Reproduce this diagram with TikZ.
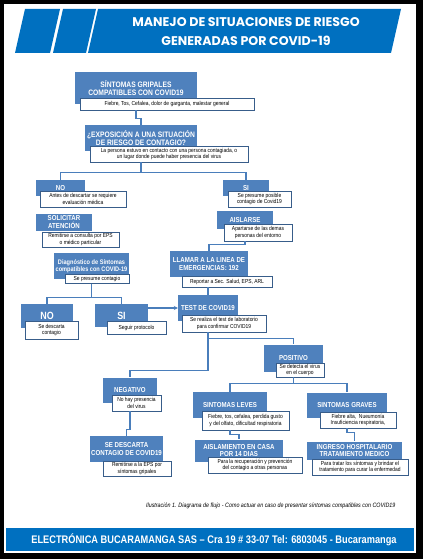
\documentclass[tikz,border=0pt]{standalone}
\usepackage{fontspec}
\setmainfont{Liberation Sans}
\newfontfamily\narrowfont{Liberation Sans}[FakeStretch=0.85]
\newfontfamily\footfont{Liberation Sans}[FakeStretch=0.84]
\newfontfamily\titlefont{Poppins}
\usetikzlibrary{arrows.meta}
\definecolor{bannerblue}{HTML}{0070C0}
\definecolor{headblue}{HTML}{4F81BD}
\definecolor{noteblue}{HTML}{385D8A}
\definecolor{lineblue}{HTML}{4A7EBB}

\begin{document}
\begin{tikzpicture}[x=1pt, y=-1pt,
	head node/.style={fill=headblue, text=white, inner sep=0pt, align=center,
		font=\narrowfont\bfseries\fontsize{7.2}{8}\selectfont},
	large node/.style={head node, font=\narrowfont\bfseries\fontsize{7.9}{8.8}\selectfont},
	big node/.style={head node, font=\narrowfont\bfseries\fontsize{10.5}{12}\selectfont},
	note node/.style={draw=noteblue, line width=0.7pt, fill=white, inner sep=0pt,
		align=center, font=\narrowfont\fontsize{5.8}{6.8}\selectfont},
	link/.style={draw=lineblue, line width=1.1pt}]
	
	% page, frame and banner
	\useasboundingbox (0,0) rectangle (423,559);
	\fill[black] (0,0) rectangle (423,559);
	\fill[white] (4,4) rectangle (416,553);
	\fill[bannerblue] (15,53) -- (25,9) -- (60,9) -- (50,53) -- cycle;
	\fill[bannerblue] (53,53) -- (63,9) -- (96,9) -- (86,53) -- cycle;
	\fill[bannerblue] (88,53) -- (98,9) -- (401,9) -- (391,53) -- cycle;
	\node[text=white, font=\titlefont\bfseries\fontsize{12.6}{14}\selectfont] (title1) at (246,22) {MANEJO DE SITUACIONES DE RIESGO};
	\node[text=white, font=\titlefont\bfseries\fontsize{12.6}{14}\selectfont] (title2) at (246,41) {GENERADAS POR COVID-19};
	
	% first steps
	\node[large node, minimum width=122pt, minimum height=32pt] (sint) at (136,88) {SÍNTOMAS GRIPALES\\COMPATIBLES CON COVID19};
	\node[note node, minimum width=174pt, minimum height=12pt] (sintN) at (167,104) {Fiebre, Tos, Cefalea, dolor de garganta, malestar general};
	\node[large node, minimum width=112pt, minimum height=26pt] (expo) at (141,138) {¿EXPOSICIÓN A UNA SITUACIÓN\\DE RIESGO DE CONTAGIO?};
	\node[note node, minimum width=158pt, minimum height=16pt] (expoN) at (169,154) {La persona estuvo en contacto con una persona contagiada, o\\un lugar donde puede haber presencia del virus};
	
	% left branch
	\node[head node, minimum width=49pt, minimum height=16pt] (no) at (60.5,188) {NO};
	\node[note node, minimum width=86pt, minimum height=16pt] (noN) at (83,199) {Antes de descartar se requiere\\evaluación médica};
	\node[head node, minimum width=56pt, minimum height=17pt] (sol) at (64,222.5) {SOLICITAR\\ATENCIÓN};
	\node[note node, minimum width=77pt, minimum height=15pt] (solN) at (80.5,239.5) {Remitirse a consulta por EPS\\o médico particular};
	\node[head node, minimum width=75pt, minimum height=26pt, font=\narrowfont\bfseries\fontsize{6.6}{7.4}\selectfont] (diag) at (91.5,266) {Diagnóstico de Síntomas\\compatibles con COVID-19};
	\node[note node, minimum width=64pt, minimum height=8.5pt] (diagN) at (97,279) {Se presume contagio};
	\node[big node, minimum width=52pt, minimum height=24pt] (no2) at (47,316) {NO};
	\node[note node, minimum width=53pt, minimum height=18pt] (no2N) at (51.5,330) {Se descarta\\contagio};
	\node[big node, minimum width=53pt, minimum height=23pt] (si2) at (121.5,315.5) {SI};
	\node[note node, minimum width=59pt, minimum height=13pt] (si2N) at (136.5,327.5) {Seguir protocolo};
	
	% right branch
	\node[head node, minimum width=46pt, minimum height=16pt] (si) at (246,188) {SI};
	\node[note node, minimum width=63pt, minimum height=16pt] (siN) at (259.5,199) {Se presume posible\\contagio de Covid19};
	\node[head node, minimum width=56pt, minimum height=18pt] (ais) at (245,220) {AISLARSE};
	\node[note node, minimum width=68pt, minimum height=17pt] (aisN) at (258,232.5) {Apartarse de las demas\\personas del entorno};
	\node[head node, minimum width=78pt, minimum height=26pt] (lla) at (209,264) {LLAMAR A LA LINEA DE\\EMERGENCIAS: 192};
	\node[note node, minimum width=90pt, minimum height=11pt] (llaN) at (227,281.5) {Reportar a Sec. Salud, EPS, ARL};
	\node[head node, minimum width=60pt, minimum height=26pt] (test) at (208,308) {TEST DE COVID19};
	\node[note node, minimum width=84pt, minimum height=17pt] (testN) at (224,323.5) {Se realiza el test de laboratorio\\para confirmar COVID19};
	
	% results
	\node[head node, minimum width=59pt, minimum height=27pt] (pos) at (293.5,358) {POSITIVO};
	\node[note node, minimum width=48pt, minimum height=14pt] (posN) at (300,370) {Se detecta el virus\\en el cuerpo};
	\node[head node, minimum width=54pt, minimum height=25pt] (neg) at (130,390) {NEGATIVO};
	\node[note node, minimum width=49pt, minimum height=16pt] (negN) at (136.5,403) {No hay presencia\\del virus};
	\node[head node, minimum width=73pt, minimum height=26pt] (des) at (126.5,449) {SE DESCARTA\\CONTAGIO DE COVID19};
	\node[note node, minimum width=68pt, minimum height=15pt] (desN) at (137,468.5) {Remitirse a la EPS por\\síntomas gripales};
	\node[head node, minimum width=74pt, minimum height=26pt] (lev) at (230,405) {SINTOMAS LEVES};
	\node[note node, minimum width=87pt, minimum height=19pt] (levN) at (245.5,420.5) {Fiebre, tos, cefalea, perdida gusto\\y del olfato, dificultad respiratoria};
	\node[head node, minimum width=88pt, minimum height=22pt, font=\narrowfont\bfseries\fontsize{7.2}{7.2}\selectfont] (aisC) at (239,450.5) {AISLAMIENTO EN CASA\\POR 14 DIAS};
	\node[note node, minimum width=94pt, minimum height=16pt] (aisCN) at (255,465) {Para la recuperación y prevención\\del contagio a otras personas};
	\node[head node, minimum width=80pt, minimum height=25pt] (grav) at (347,405) {SINTOMAS GRAVES};
	\node[note node, minimum width=76pt, minimum height=16pt] (gravN) at (358,420) {Fiebre alta, \ Nueumonía\\Insuficiencia respiratoria,};
	\node[head node, minimum width=95pt, minimum height=18pt, font=\narrowfont\bfseries\fontsize{7.2}{7.6}\selectfont] (ing) at (354.5,450.5) {INGRESO HOSPITALARIO\\TRATAMIENTO MEDICO};
	\node[note node, minimum width=96pt, minimum height=16pt] (ingN) at (360,467) {Para tratar los síntomas y brindar el\\tratamiento para curar la enfermedad};
	
	% connectors
	\draw[link] (sint |- sintN.south) -- ++(0,8) -| (expo.north);
	\draw[link] (expo |- expoN.south) -- ++(0,10) coordinate (j1);
	\draw[link] (j1) -| (no.north);
	\draw[link] (j1) -| (si.north);
	\draw[link] (ais |- aisN.south) -- ++(0,3) -| (lla.north);
	\draw[link] (test |- llaN.south) -- (test.north);
	\draw[link] (diag |- diagN.south) -- ++(0,14) coordinate (j2);
	\draw[link] (j2) -| (no2.north);
	\draw[link] (j2) -| (si2.north);
	\draw[link, line width=1.6pt, -{Stealth[length=4pt,width=4pt]}] (si2.east |- test.west) -- (test.west);
	\draw[link] (test |- testN.south) -- ++(0,6) coordinate (j3);
	\draw[link] (j3) -| (pos.north);
	\draw[link] (j3) -- ++(0,32) -| (neg.north);
	\draw[link] (pos |- posN.south) -- ++(0,6) coordinate (j4);
	\draw[link] (j4) -| (lev.north);
	\draw[link] (j4) -| (grav.north);
	\draw[link] (neg |- negN.south) -- ++(0,18) -| (des.north);
	\draw[link] (lev |- levN.south) -- ++(0,4) -| (aisC.north);
	\draw[link] (grav |- gravN.south) -- ++(0,4) -| (ing.north);
	
	% caption and footer
	\node[anchor=east, font=\narrowfont\itshape\fontsize{6.3}{7}\selectfont] (cap) at (399,506) {Ilustración 1. Diagrama de flujo - Como actuar en caso de presentar síntomas compatibles con COVID19};
	\fill[bannerblue] (6,528) rectangle (414,551);
	\node[text=white, font=\footfont\bfseries\fontsize{11}{12}\selectfont] (foot) at (214,540) {ELECTRÓNICA BUCARAMANGA SAS – Cra 19 \# 33-07 Tel: 6803045 - Bucaramanga};
\end{tikzpicture}
\end{document}
